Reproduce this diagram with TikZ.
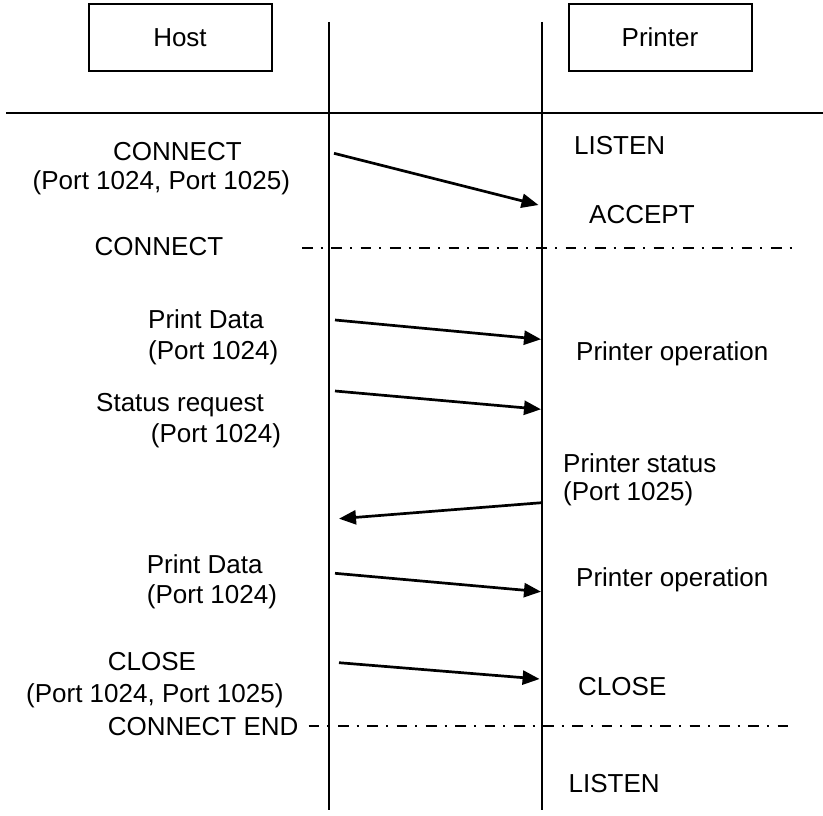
\documentclass[tikz,border=0pt]{standalone}
\usepackage{fontspec}
\setmainfont{Liberation Sans}
\usetikzlibrary{arrows.meta}

\begin{document}
\begin{tikzpicture}[
  x=1pt,y=-1pt,
  actor/.style={draw,line width=2pt,minimum width=183pt,
    minimum height=67pt},
  lifeline/.style={line width=2pt},
  phase/.style={line width=2pt,
    dash pattern=on 10.7pt off 8pt on 2pt off 8.6pt},
  msg/.style={-{Triangle[length=17pt,width=14pt]},line width=2.7pt},
  lbl/.style={anchor=west},
  every node/.style={font=\fontsize{26}{31}\selectfont,inner sep=0pt}
]
  \useasboundingbox (0,0) rectangle (823,816);

  \node[actor] (host) at (180,37.5) {Host};
  \node[actor] (printer) at (660,37.5) {Printer};

  \coordinate (host-top) at (328.5,22);
  \coordinate (host-bot) at (328.5,810);
  \coordinate (printer-top) at (542.3,22);
  \coordinate (printer-bot) at (542.3,810);
  \coordinate (sep-left) at (6,113.3);
  \coordinate (sep-right) at (823,113.3);
  \coordinate (connect-left) at (302,247.5);
  \coordinate (connect-right) at (795,247.5);
  \coordinate (end-left) at (308.7,726);
  \coordinate (end-right) at (795,726);

  \draw[lifeline] (host-top) -- (host-bot);
  \draw[lifeline] (printer-top) -- (printer-bot);
  \draw[lifeline] (sep-left) -- (sep-right);
  \draw[phase] (connect-left) -- (connect-right);
  \draw[phase] (end-left) -- (end-right);

  \node[lbl] (conn-req) at (113,151.7) {CONNECT};
  \node[lbl] (conn-ports) at (32.5,183) {(Port 1024, Port 1025)};
  \node[lbl] (listen-top) at (574,145.7) {LISTEN};
  \node[lbl] (accept) at (589,215) {ACCEPT};
  \node[lbl] (connect) at (94.5,247) {CONNECT};

  \node[lbl] (data-a) at (148,319.3) {Print Data};
  \node[lbl] (data-a-port) at (148,352.7) {(Port 1024)};
  \node[lbl] (oper-a) at (576,354) {Printer operation};
  \node[lbl] (stat-req) at (96,405) {Status request};
  \node[lbl] (stat-req-port) at (150.7,436) {(Port 1024)};
  \node[lbl] (stat) at (563,463.3) {Printer status};
  \node[lbl] (stat-port) at (563,493.3) {(Port 1025)};

  \node[lbl] (data-b) at (146.7,564) {Print Data};
  \node[lbl] (data-b-port) at (146.7,596.7) {(Port 1024)};
  \node[lbl] (oper-b) at (576,580) {Printer operation};
  \node[lbl] (close-req) at (107.6,661.7) {CLOSE};
  \node[lbl] (close-ports) at (26,696) {(Port 1024, Port 1025)};
  \node[lbl] (close) at (578,686.7) {CLOSE};
  \node[lbl] (connect-end) at (107.6,726.7) {CONNECT END};
  \node[lbl] (listen-bot) at (568.5,784) {LISTEN};

  \coordinate (conn-from) at (334,153.3);
  \coordinate (conn-to) at (538.5,205);
  \coordinate (data-a-from) at (335,320);
  \coordinate (data-a-to) at (541,339.3);
  \coordinate (stat-req-from) at (335,391);
  \coordinate (stat-req-to) at (541,409.3);
  \coordinate (stat-from) at (541.7,502.7);
  \coordinate (stat-to) at (339,518.7);
  \coordinate (data-b-from) at (335,573.3);
  \coordinate (data-b-to) at (541,591.7);
  \coordinate (close-from) at (339,662.7);
  \coordinate (close-to) at (539.6,679);

  \draw[msg] (conn-from) -- (conn-to);
  \draw[msg] (data-a-from) -- (data-a-to);
  \draw[msg] (stat-req-from) -- (stat-req-to);
  \draw[msg] (stat-from) -- (stat-to);
  \draw[msg] (data-b-from) -- (data-b-to);
  \draw[msg] (close-from) -- (close-to);
\end{tikzpicture}
\end{document}
